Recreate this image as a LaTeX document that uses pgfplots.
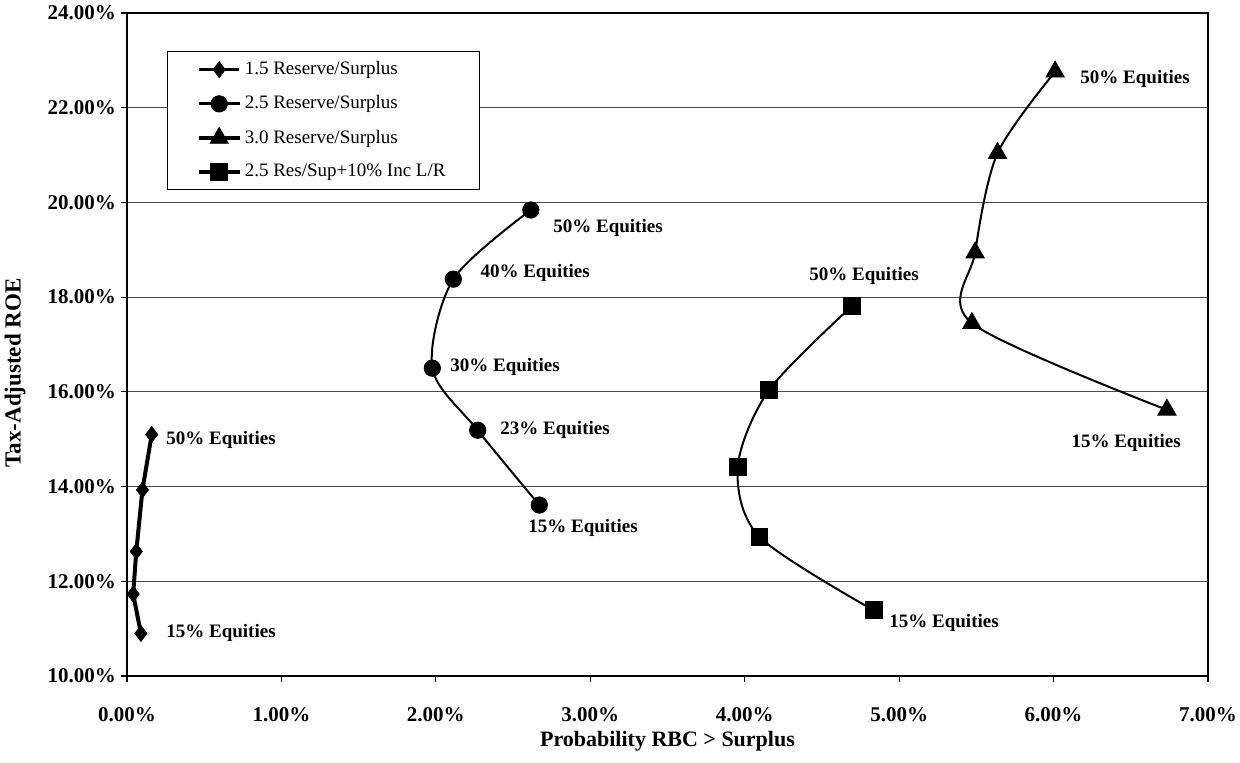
\documentclass[border=0pt]{standalone}
\usepackage{fontspec}
\setmainfont{Liberation Serif}
\usepackage{pgfplots}
\pgfplotsset{compat=1.18}
\begin{document}
\begin{tikzpicture}
\path[use as bounding box] (-63.5pt,-43pt) rectangle (556.5pt,338pt);
\begin{axis}[
  scale only axis, width=540.5pt, height=331.5pt,
  at={(0pt,0pt)}, anchor=south west,
  xmin=0, xmax=7, ymin=10, ymax=24,
  xtick={0,1,...,7}, ytick={10,12,...,24},
  xticklabels={0.00\%,1.00\%,2.00\%,3.00\%,4.00\%,5.00\%,6.00\%,7.00\%},
  yticklabels={10.00\%,12.00\%,14.00\%,16.00\%,18.00\%,20.00\%,22.00\%,24.00\%},
  ticklabel style={font=\fontsize{10.5}{12}\selectfont\bfseries},
  xticklabel style={yshift=-9pt},
  yticklabel style={xshift=1pt},
  xtick pos=left, ytick pos=left,
  tick align=outside, major tick length=3pt,
  tick style={black, line width=0.6pt},
  axis line style={black, line width=1pt},
  ymajorgrids, grid style={black!70, line width=0.5pt},
  xlabel={Probability RBC > Surplus},
  ylabel={Tax-Adjusted ROE},
  xlabel style={font=\fontsize{11}{13}\selectfont\bfseries, at={(axis description cs:0.5,-0.098)}, anchor=center},
  ylabel style={font=\fontsize{11.5}{13}\selectfont\bfseries, at={(axis description cs:-0.1036,0.457)}, anchor=center},
  legend style={at={(axis description cs:0.037,0.9427)}, anchor=north west,
    draw=black, line width=0.6pt, fill=white,
    font=\fontsize{9.5}{11}\selectfont,
    inner xsep=15pt, inner ysep=3pt, row sep=5pt,
    nodes={inner sep=2pt}},
  legend cell align=left,
  legend image code/.code={\draw[mark repeat=2,mark phase=2,#1,line width=1.6pt] plot coordinates {(0pt,0pt) (10pt,0pt) (20pt,0pt)};},
]
\addplot[black, line width=2pt, mark=diamond*, mark size=4pt, mark options={solid, line width=0.4pt}]
  coordinates {(0.16,15.10) (0.10,13.93) (0.06,12.63) (0.04,11.73) (0.09,10.90)};
\addlegendentry{1.5 Reserve/Surplus}
\addplot[black, line width=1pt, smooth, mark=*, mark size=4.1pt, mark options={solid, line width=0.4pt}]
  coordinates {(2.615,19.84) (2.113,18.38) (1.977,16.50) (2.271,15.19) (2.670,13.61)};
\addlegendentry{2.5 Reserve/Surplus}
\addplot[black, line width=1pt, smooth, mark=triangle*, mark size=5.3pt, mark options={solid, line width=0.4pt}]
  coordinates {(6.010,22.76) (5.637,21.04) (5.492,18.94) (5.471,17.45) (6.734,15.62)};
\addlegendentry{3.0 Reserve/Surplus}
\addplot[black, line width=1pt, smooth, mark=square*, mark size=4.2pt, mark options={solid, line width=0.4pt}]
  coordinates {(4.694,17.81) (4.158,16.04) (3.955,14.41) (4.095,12.94) (4.834,11.39)};
\addlegendentry{2.5 Res/Sup+10\% Inc L/R}
\begin{scope}[every node/.style={font=\fontsize{9.5}{11}\selectfont\bfseries, anchor=center}]
\node at (axis cs:0.609,14.98) {50\% Equities};
\node at (axis cs:0.609,10.91) {15\% Equities};
\node at (axis cs:3.115,19.46) {50\% Equities};
\node at (axis cs:2.643,18.51) {40\% Equities};
\node at (axis cs:2.448,16.52) {30\% Equities};
\node at (axis cs:2.772,15.19) {23\% Equities};
\node at (axis cs:2.953,13.12) {15\% Equities};
\node at (axis cs:4.773,18.45) {50\% Equities};
\node at (axis cs:5.291,11.12) {15\% Equities};
\node at (axis cs:6.528,22.61) {50\% Equities};
\node at (axis cs:6.470,14.92) {15\% Equities};
\end{scope}
\end{axis}
\end{tikzpicture}
\end{document}
